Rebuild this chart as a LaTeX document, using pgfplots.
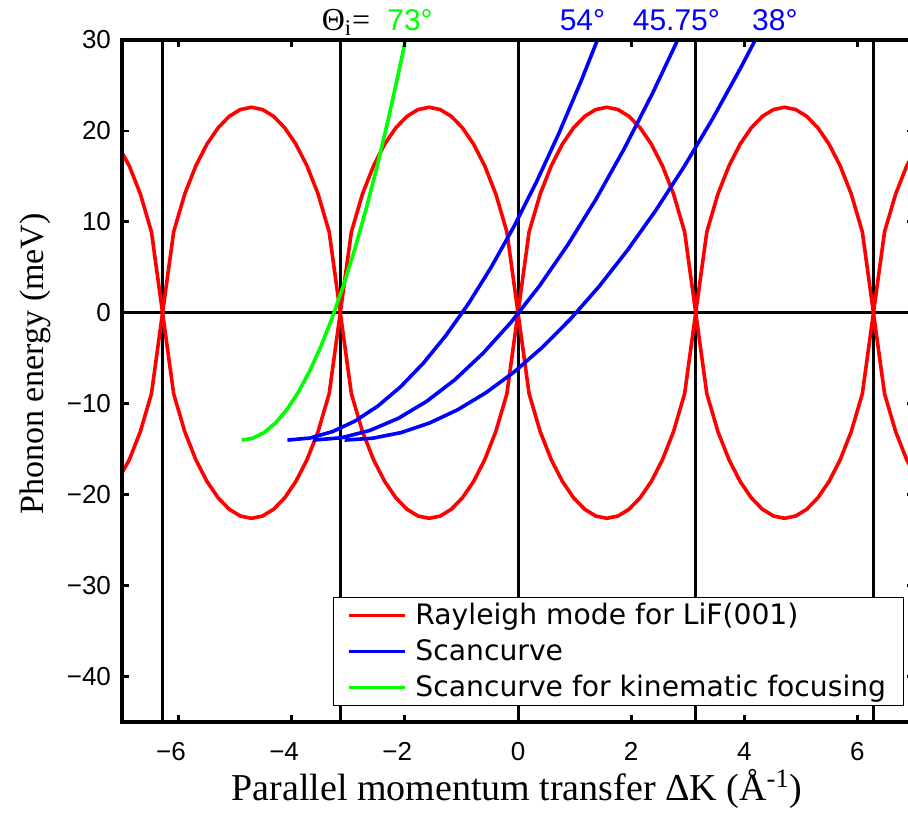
\documentclass[border=0pt]{standalone}
\usepackage{fontspec}
\setmainfont{Liberation Serif}
\newfontfamily\lsans{Liberation Sans}
\newfontfamily\dvsans{DejaVu Sans}
\usepackage{pgfplots}
\usepackage{pgfplotstable}
\pgfplotsset{compat=1.18}
\definecolor{mred}{RGB}{255,0,0}
\definecolor{mblue}{RGB}{0,0,255}
\definecolor{mgreen}{RGB}{0,255,0}

\pgfplotstableread{
x y yn
-7.0000 17.60 -17.60
-6.8722 16.17 -16.17
-6.6759 13.07 -13.07
-6.4795 8.90 -8.90
-6.2832 0 0
-6.0868 8.90 -8.90
-5.8905 13.07 -13.07
-5.6941 16.17 -16.17
-5.4978 18.55 -18.55
-5.3014 20.34 -20.34
-5.1051 21.60 -21.60
-4.9087 22.35 -22.35
-4.7124 22.60 -22.60
-4.5160 22.35 -22.35
-4.3197 21.60 -21.60
-4.1233 20.34 -20.34
-3.9270 18.55 -18.55
-3.7306 16.17 -16.17
-3.5343 13.07 -13.07
-3.3379 8.90 -8.90
-3.1416 0 0
-2.9452 8.90 -8.90
-2.7489 13.07 -13.07
-2.5525 16.17 -16.17
-2.3562 18.55 -18.55
-2.1598 20.34 -20.34
-1.9635 21.60 -21.60
-1.7671 22.35 -22.35
-1.5708 22.60 -22.60
-1.3744 22.35 -22.35
-1.1781 21.60 -21.60
-0.9817 20.34 -20.34
-0.7854 18.55 -18.55
-0.5890 16.17 -16.17
-0.3927 13.07 -13.07
-0.1963 8.90 -8.90
0 0 0
0.1963 8.90 -8.90
0.3927 13.07 -13.07
0.5890 16.17 -16.17
0.7854 18.55 -18.55
0.9817 20.34 -20.34
1.1781 21.60 -21.60
1.3744 22.35 -22.35
1.5708 22.60 -22.60
1.7671 22.35 -22.35
1.9635 21.60 -21.60
2.1598 20.34 -20.34
2.3562 18.55 -18.55
2.5525 16.17 -16.17
2.7489 13.07 -13.07
2.9452 8.90 -8.90
3.1416 0 0
3.3379 8.90 -8.90
3.5343 13.07 -13.07
3.7306 16.17 -16.17
3.9270 18.55 -18.55
4.1233 20.34 -20.34
4.3197 21.60 -21.60
4.5160 22.35 -22.35
4.7124 22.60 -22.60
4.9087 22.35 -22.35
5.1051 21.60 -21.60
5.3014 20.34 -20.34
5.4978 18.55 -18.55
5.6941 16.17 -16.17
5.8905 13.07 -13.07
6.0868 8.90 -8.90
6.2832 0 0
6.4795 8.90 -8.90
6.6759 13.07 -13.07
6.8722 16.17 -16.17
7.0000 17.60 -17.60
}\rayleigh

\begin{document}
\begin{tikzpicture}
\begin{axis}[
  scale only axis, width=396pt, height=341pt,
  xmin=-7, xmax=7, ymin=-45, ymax=30,
  xtick={-6,-4,-2,0,2,4,6},
  xticklabels={\llap{−}6,\llap{−}4,\llap{−}2,0,2,4,6},
  ytick={-40,-30,-20,-10,0,10,20,30},
  yticklabels={−40,−30,−20,−10,0,10,20,30},
  tick align=inside,
  major tick length=3.5pt,
  every tick/.style={black, line width=1.4pt},
  axis line style={line width=1.9pt},
  ticklabel style={font=\lsans\fontsize{13}{15}\selectfont},
  xticklabel style={anchor=base, yshift=-19pt},
  yticklabel style={anchor=east, xshift=-2pt},
  clip=false, axis on top,
  legend style={at={(axis description cs:1,0)}, anchor=south east,
    xshift=-5.2pt, yshift=8pt, draw=black, line width=0.5pt,
    font=\dvsans\fontsize{14.1}{16}\selectfont,
    inner xsep=6.5pt, inner ysep=0.8pt, row sep=2pt, cells={anchor=west},
    /tikz/every odd column/.append style={column sep=2.5pt}},
  legend image code/.code={\draw[#1] (0pt,0pt) -- (28pt,0pt);},
]
% reference lines
\addplot[black, line width=1.5pt, forget plot] coordinates {(-6.2832,-45) (-6.2832,30)};
\addplot[black, line width=1.5pt, forget plot] coordinates {(-3.1416,-45) (-3.1416,30)};
\addplot[black, line width=1.5pt, forget plot] coordinates {(0,-45) (0,30)};
\addplot[black, line width=1.5pt, forget plot] coordinates {(3.1416,-45) (3.1416,30)};
\addplot[black, line width=1.5pt, forget plot] coordinates {(6.2832,-45) (6.2832,30)};
\addplot[black, line width=1.5pt, forget plot] coordinates {(-7,0) (7,0)};
% Rayleigh mode
\addplot[mred, line width=1.8pt] table[x=x, y=y] {\rayleigh};
\addlegendentry{Rayleigh mode for LiF(001)}
\addplot[mred, line width=1.8pt, forget plot] table[x=x, y=yn] {\rayleigh};
% scancurves
\addplot[mblue, line width=1.8pt] coordinates {(-4.076,-14) (-3.676,-13.77) (-3.276,-13.06) (-2.876,-11.89) (-2.476,-10.25) (-2.076,-8.14) (-1.676,-5.56) (-1.276,-2.51) (-0.876,1.00) (-0.476,4.99) (-0.076,9.44) (0.324,14.36) (0.724,19.75) (1.124,25.61) (1.404,30)};
\addlegendentry{Scancurve}
\addplot[mblue, line width=1.8pt, forget plot] coordinates {(-3.62,-14) (-3.12,-13.74) (-2.62,-12.94) (-2.12,-11.62) (-1.62,-9.76) (-1.12,-7.38) (-0.62,-4.46) (-0.12,-1.02) (0.38,2.96) (0.88,7.47) (1.38,12.50) (1.88,18.07) (2.38,24.16) (2.823,30)};
\addplot[mblue, line width=1.8pt, forget plot] coordinates {(-3.065,-14) (-2.565,-13.79) (-2.065,-13.17) (-1.565,-12.12) (-1.065,-10.66) (-0.565,-8.78) (-0.065,-6.49) (0.435,-3.77) (0.935,-0.64) (1.435,2.91) (1.935,6.88) (2.435,11.26) (2.935,16.06) (3.435,21.28) (3.935,26.92) (4.194,30)};
\addplot[mgreen, line width=1.8pt] coordinates {(-4.885,-14) (-4.685,-13.79) (-4.485,-13.16) (-4.285,-12.11) (-4.085,-10.64) (-3.885,-8.75) (-3.685,-6.44) (-3.485,-3.71) (-3.285,-0.56) (-3.085,3.01) (-2.885,7.00) (-2.685,11.41) (-2.485,16.24) (-2.285,21.49) (-2.085,27.16) (-1.990,30)};
\addlegendentry{Scancurve for kinematic focusing}
% labels
\node[anchor=base, font=\fontsize{19}{22}\selectfont] at (axis description cs:0.4987,-0.1144) {Parallel momentum transfer ΔK (Å\textsuperscript{-1})};
\node[rotate=90, anchor=base, font=\fontsize{17}{20}\selectfont] at (axis description cs:-0.0997,0.525) {Phonon energy (meV)};
\node[anchor=base west, yshift=4.7pt, font=\fontsize{16}{18}\selectfont, inner sep=0pt] at (axis cs:-3.476,30) {Θ\textsubscript{i}=};
\node[anchor=base, yshift=4.7pt, text=mgreen, font=\lsans\fontsize{15}{18}\selectfont, inner sep=0pt] at (axis cs:-1.909,30) {73°};
\node[anchor=base, yshift=4.7pt, text=mblue, font=\lsans\fontsize{15}{18}\selectfont, inner sep=0pt] at (axis cs:1.14,30) {54°};
\node[anchor=base, yshift=4.7pt, text=mblue, font=\lsans\fontsize{15}{18}\selectfont, inner sep=0pt] at (axis cs:2.80,30) {45.75°};
\node[anchor=base, yshift=4.7pt, text=mblue, font=\lsans\fontsize{15}{18}\selectfont, inner sep=0pt] at (axis cs:4.54,30) {38°};
\end{axis}
\pgfresetboundingbox
\path[use as bounding box] ([shift={(-61pt,-48pt)}]current axis.south west) rectangle ([shift={(393pt,361pt)}]current axis.south west);
\end{tikzpicture}
\end{document}
